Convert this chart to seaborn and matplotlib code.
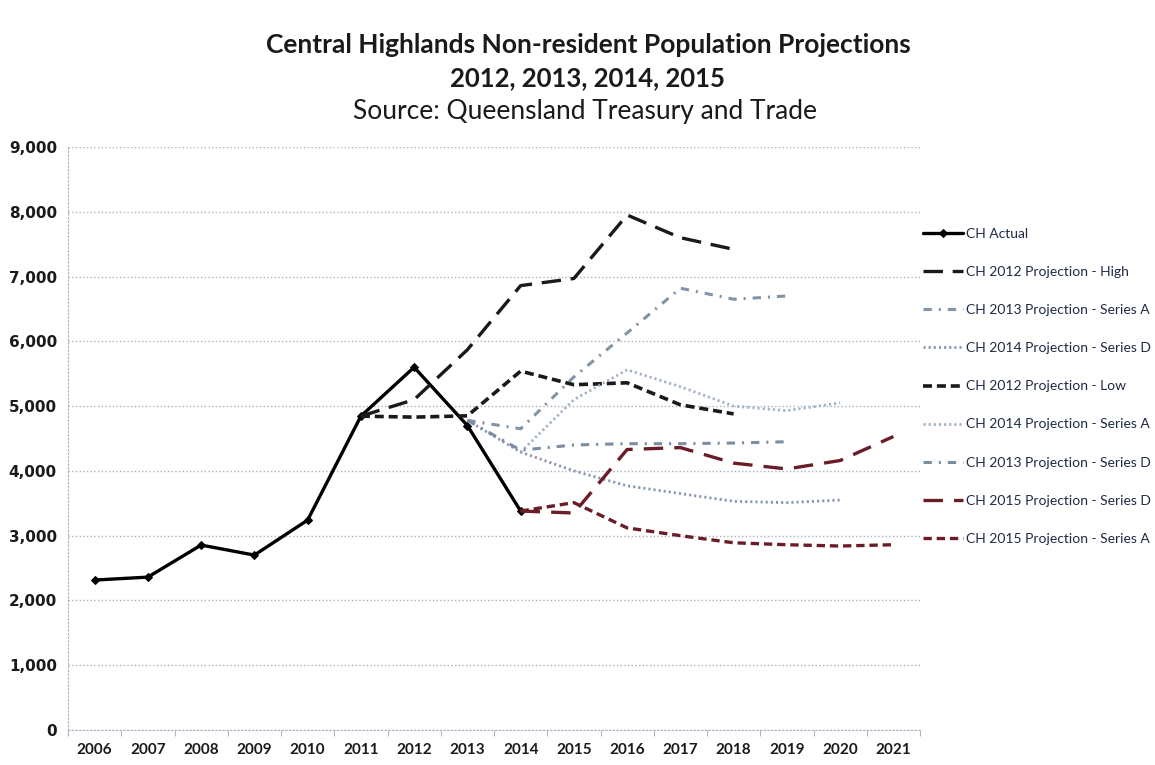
import matplotlib
matplotlib.use('Agg')
import matplotlib.pyplot as plt
import pandas as pd
import numpy as np
import seaborn as sns

# values
actual_years = list(range(2006, 2015))
actual = [2315, 2360, 2855, 2700, 3240, 4845, 5600, 4700, 3380]

high_years = list(range(2011, 2019))
high_2012 = [4845, 5100, 5870, 6860, 6970, 7950, 7600, 7420]

low_years = list(range(2011, 2019))
low_2012 = [4845, 4830, 4850, 5540, 5330, 5360, 5020, 4880]

a2013_years = list(range(2013, 2020))
a_2013 = [4780, 4650, 5450, 6130, 6820, 6650, 6700]

d2013_years = list(range(2013, 2020))
d_2013 = [4780, 4320, 4400, 4420, 4420, 4430, 4450]

d2014_years = list(range(2013, 2021))
d_2014 = [4780, 4290, 4000, 3770, 3650, 3530, 3510, 3550]

a2014_years = list(range(2014, 2021))
a_2014 = [4290, 5100, 5560, 5300, 5000, 4930, 5050]

d2015_years = list(range(2014, 2022))
d_2015 = [3380, 3350, 4330, 4360, 4120, 4030, 4160, 4530]

a2015_years = list(range(2014, 2022))
a_2015 = [3380, 3510, 3120, 3000, 2890, 2860, 2840, 2860]

years = list(range(2006, 2022))

sns.set_style('white')
plt.rcParams['font.family'] = ['Lato', 'DejaVu Sans']
plt.rcParams['lines.scale_dashes'] = False

fig = plt.figure(figsize=(11.55, 7.65), dpi=100)
ax = fig.add_axes([68 / 1155, 1 - 730 / 765, (920 - 68) / 1155, (730 - 147) / 765])

red = '#6b1d27'
series = [
    ('CH Actual', actual_years, actual, 'black', '-', 2.4, 'D'),
    ('CH 2012 Projection - High', high_years, high_2012, '#1a1a1a', (0, (14, 7)), 2.4, None),
    ('CH 2013 Projection - Series A', a2013_years, a_2013, '#8393a8', (0, (6, 5, 1.5, 5)), 2.2, None),
    ('CH 2014 Projection - Series D', d2014_years, d_2014, '#8795b0', (0, (1.5, 2.2)), 2.0, None),
    ('CH 2012 Projection - Low', low_years, low_2012, '#1a1a1a', (0, (6.5, 3.5)), 2.6, None),
    ('CH 2014 Projection - Series A', a2014_years, a_2014, '#9fb0c8', (0, (1.5, 2.2)), 2.0, None),
    ('CH 2013 Projection - Series D', d2013_years, d_2013, '#7c8ca3', (0, (6, 5, 1.5, 5)), 2.2, None),
    ('CH 2015 Projection - Series D', d2015_years, d_2015, red, (0, (14, 8)), 2.4, None),
    ('CH 2015 Projection - Series A', a2015_years, a_2015, red, (0, (6, 3.5)), 2.4, None),
]

for name, xs, ys, col, ls, lw, mk in series:
    df = pd.DataFrame({'year': xs, 'value': ys})
    sns.lineplot(data=df, x='year', y='value', ax=ax, color=col, linestyle=ls,
                 linewidth=lw, marker=mk, markersize=4 if mk else 0,
                 markeredgecolor=col, label=name)

ax.set_xlim(2005.5, 2021.5)
ax.set_ylim(0, 9000)
ax.set_xticks(years)
ax.set_xticklabels([str(y) for y in years], fontsize=11, fontweight='bold', color='#1a1a1a')
ax.set_xticks(np.arange(2005.5, 2022, 1), minor=True)
ax.set_yticks(np.arange(0, 9001, 1000))
ax.set_yticklabels([f'{v:,}' for v in range(0, 9001, 1000)], fontsize=11,
                   fontweight='bold', color='#1a1a1a', family='DejaVu Sans')
ax.tick_params(axis='x', which='major', length=0, pad=9)
ax.tick_params(axis='x', which='minor', length=4, color='#9aa3b5', bottom=True)
ax.tick_params(axis='y', length=0, pad=8)
ax.set_xlabel('')
ax.set_ylabel('')

ax.grid(axis='y', color='#a9b2c4', linestyle=':', linewidth=1.0)
for s in ['top', 'right']:
    ax.spines[s].set_visible(False)
ax.spines['left'].set_color('#a9b2c4')
ax.spines['left'].set_linestyle(':')
ax.spines['bottom'].set_color('#a9b2c4')
ax.spines['bottom'].set_linestyle(':')

ax.legend(loc='upper left', bbox_to_anchor=(916 / 1155, 1 - 221 / 765),
          bbox_transform=fig.transFigure, frameon=False, fontsize=10,
          handlelength=2.85, handletextpad=0.25, labelspacing=1.88, borderpad=0,
          labelcolor='#1f2a44')

fig.text(588 / 1155, 1 - 45 / 765, 'Central Highlands Non-resident Population Projections',
         ha='center', va='center', fontsize=19, fontweight='bold', color='#1a1a1a')
fig.text(588 / 1155, 1 - 78 / 765, '2012, 2013, 2014, 2015',
         ha='center', va='center', fontsize=18.5, fontweight='bold', color='#1a1a1a')
fig.text(585 / 1155, 1 - 112 / 765, 'Source: Queensland Treasury and Trade',
         ha='center', va='center', fontsize=19, color='#1a1a1a')

fig.savefig('out.png', dpi=100)
